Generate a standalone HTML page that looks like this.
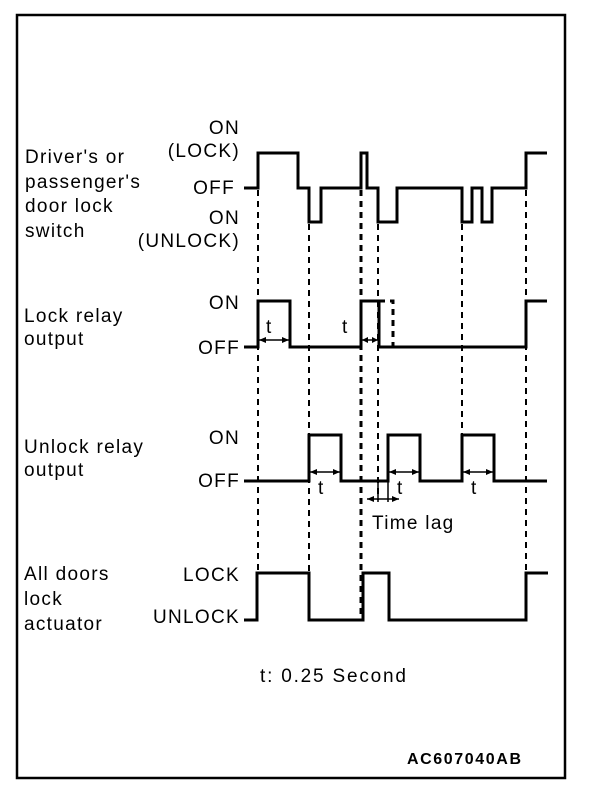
<!DOCTYPE html>
<html><head><style>body{margin:0;background:#fff}svg{display:block}</style></head><body>
<svg width="608" height="788" viewBox="0 0 608 788" xmlns="http://www.w3.org/2000/svg" font-family="Liberation Sans, Arial, sans-serif" font-size="19" letter-spacing="1.3">
<rect x="17" y="15" width="548" height="763" fill="none" stroke="#000" stroke-width="2.5"/>
<g fill="#000">
<text x="25" y="163">Driver's or</text>
<text x="25" y="188">passenger's</text>
<text x="25" y="212">door lock</text>
<text x="25" y="237">switch</text>
<g text-anchor="end">
<text x="240" y="134">ON</text>
<text x="240" y="157">(LOCK)</text>
<text x="235" y="194">OFF</text>
<text x="240" y="224">ON</text>
<text x="240" y="247">(UNLOCK)</text>
<text x="240" y="309">ON</text>
<text x="240" y="354">OFF</text>
<text x="240" y="444">ON</text>
<text x="240" y="487">OFF</text>
<text x="240" y="581">LOCK</text>
<text x="240" y="623">UNLOCK</text>
</g>
<text x="24" y="322">Lock relay</text>
<text x="24" y="345">output</text>
<text x="24" y="453">Unlock relay</text>
<text x="24" y="476">output</text>
<text x="24" y="580">All doors</text>
<text x="24" y="605">lock</text>
<text x="24" y="630">actuator</text>
<text x="372" y="529">Time lag</text>
<text x="260" y="682" letter-spacing="1.8">t: 0.25 Second</text>
<text x="407" y="764" font-weight="bold" font-size="16" letter-spacing="1.6">AC607040AB</text>
<text x="266" y="333">t</text>
<text x="342" y="333">t</text>
<text x="318" y="494">t</text>
<text x="397" y="494">t</text>
<text x="471" y="494">t</text>
</g>
<g fill="none" stroke="#000" stroke-width="3">
<polyline points="244,188 258,188 258,153 298,153 298,188 309,188 309,222 321,222 321,188 361,188 361,153 367,153 367,188 378,188 378,222 397,222 397,188 462,188 462,222 472,222 472,188 482,188 482,222 492,222 492,188 526,188 526,153 547,153"/>
<polyline points="244,347 258,347 258,301 290,301 290,347 361,347 361,301 379,301 379,347 526,347 526,301 547,301"/>
<polyline points="244,481 309,481 309,435 341,435 341,481 388,481 388,435 420,435 420,481 462,481 462,435 494,435 494,481 547,481"/>
<polyline points="244,620 257,620 257,573 309,573 309,620 363,620 363,573 389,573 389,620 526,620 526,573 548,573"/>
</g>
<g stroke="#000" stroke-width="2" stroke-dasharray="6,5">
<line x1="258" y1="190" x2="258" y2="573"/>
<line x1="309" y1="224" x2="309" y2="620"/>
<line x1="361" y1="190" x2="361" y2="620" stroke-width="3"/>
<line x1="378" y1="224" x2="378" y2="500"/>
<line x1="462" y1="224" x2="462" y2="481"/>
<line x1="526" y1="190" x2="526" y2="573"/>
<polyline points="379,301 393,301 393,347" fill="none" stroke-width="3"/>
</g>
<g stroke="#000" stroke-width="1.5">
<line x1="378" y1="481" x2="378" y2="502"/>
<line x1="388" y1="481" x2="388" y2="502"/>
<line x1="367" y1="499" x2="399" y2="499"/>
<line x1="259" y1="340" x2="289" y2="340"/>
<line x1="362" y1="340" x2="378" y2="340"/>
<line x1="310" y1="472" x2="340" y2="472"/>
<line x1="389" y1="472" x2="419" y2="472"/>
<line x1="463" y1="472" x2="493" y2="472"/>
</g>
<g fill="#000">
<polygon points="259,340 266,337 266,343"/><polygon points="289,340 282,337 282,343"/>
<polygon points="362,340 368,337 368,343"/><polygon points="378,340 372,337 372,343"/>
<polygon points="310,472 317,469 317,475"/><polygon points="340,472 333,469 333,475"/>
<polygon points="389,472 396,469 396,475"/><polygon points="419,472 412,469 412,475"/>
<polygon points="463,472 470,469 470,475"/><polygon points="493,472 486,469 486,475"/>
<polygon points="367,499 374,496 374,502"/><polygon points="399,499 392,496 392,502"/>
</g>
</svg>
</body></html>
